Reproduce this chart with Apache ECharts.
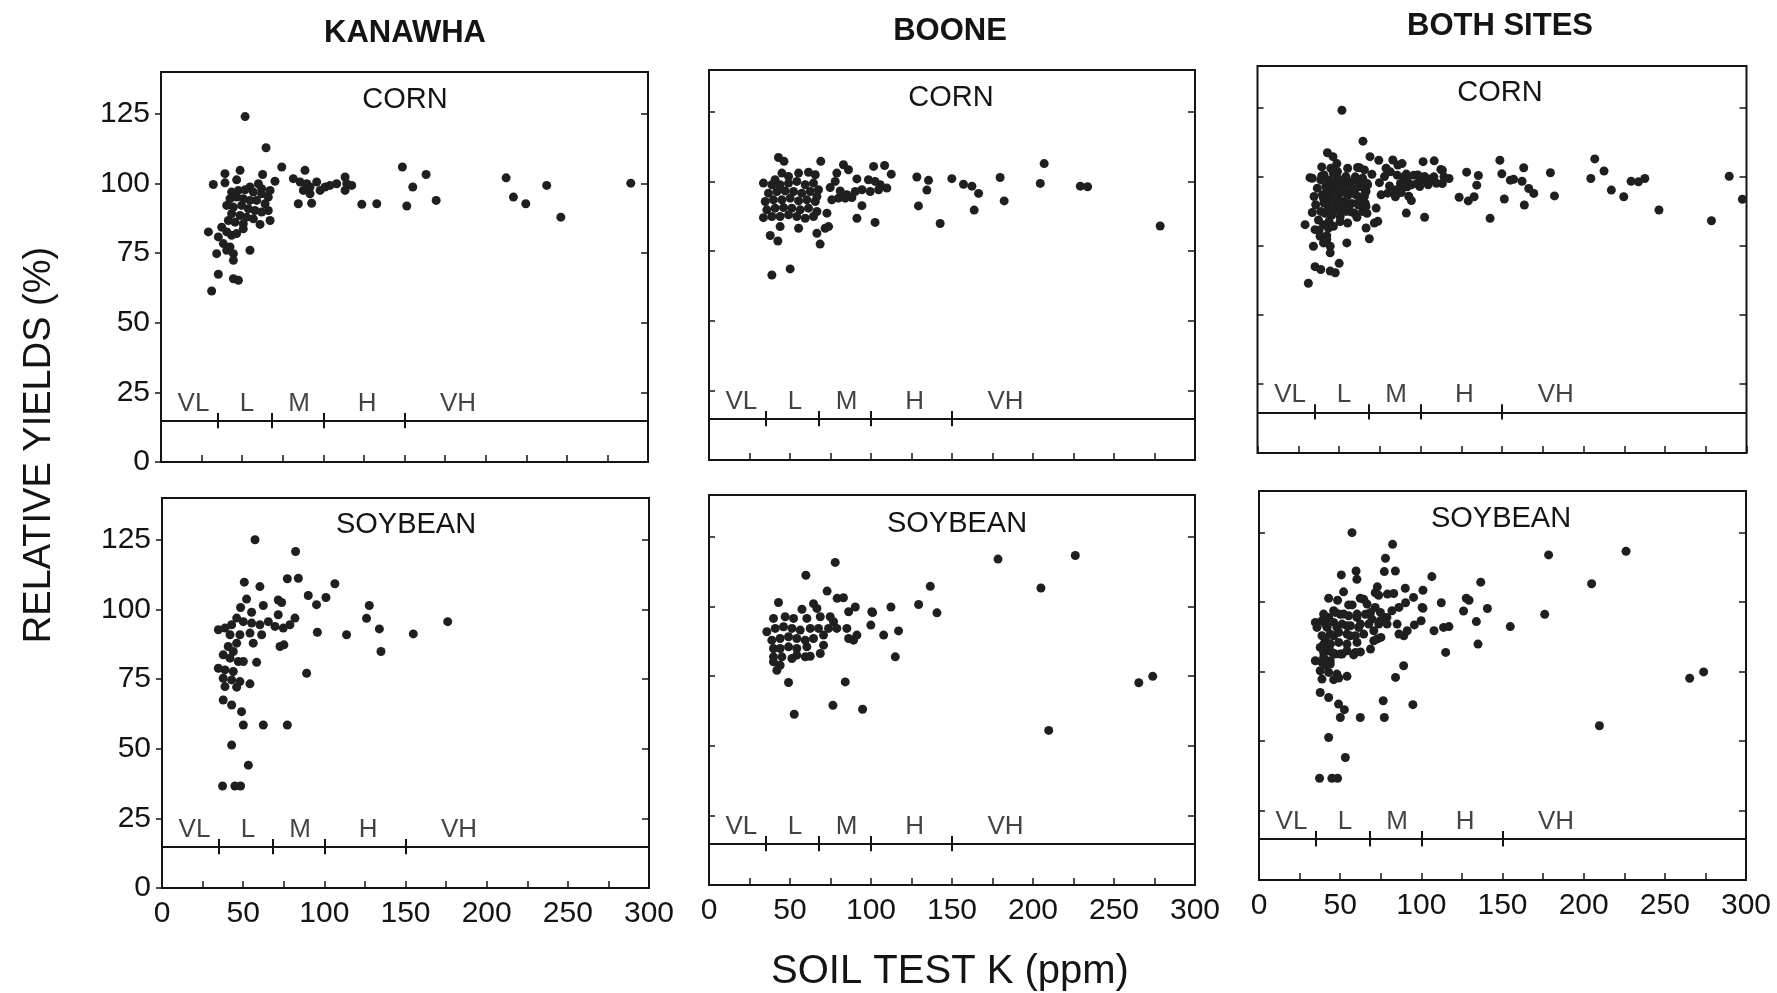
<!DOCTYPE html>
<html><head><meta charset="utf-8">
<script src="https://cdn.jsdelivr.net/npm/echarts@6/dist/echarts.min.js"></script>
<style>html,body{margin:0;padding:0;background:#fff}#c{width:1777px;height:993px}</style>
</head><body><div id="c"></div>
<script>
// ---------- DATA ----------
const columnTitles = ['KANAWHA', 'BOONE', 'BOTH SITES'];
const cropNames = ['CORN', 'SOYBEAN'];
const xTickLabels = [0, 50, 100, 150, 200, 250, 300];
const yTickLabels = [0, 25, 50, 75, 100, 125];
const kClassNames = ['VL', 'L', 'M', 'H', 'VH'];
const kClassLabelX = [20, 53, 85, 127, 183];
const kClassBounds = [35, 68, 100, 150];
const kClassLineY = 14.7;
const xAxisTitle = 'SOIL TEST K (ppm)';
const yAxisTitle = 'RELATIVE YIELDS (%)';

const kanawhaCorn = [
[51.8,124.0],[64.7,112.8],[74.4,105.9],[48.7,104.7],[39.4,103.5],[62.6,103.2],[39.4,100.2],[46.6,101.3],[32.2,99.6],[70.2,100.8],
[60.0,99.9],[54.8,98.7],[62.0,98.1],[67.2,97.5],[43.5,96.9],[47.7,97.5],[51.8,97.7],[56.9,96.9],[62.0,96.3],[66.1,95.1],
[42.5,94.5],[46.6,95.1],[50.7,94.5],[54.8,93.9],[58.9,93.9],[64.1,92.7],[40.5,92.1],[44.6,91.5],[49.7,92.1],[53.8,90.9],
[57.9,90.3],[62.0,89.7],[66.1,90.3],[43.5,89.1],[48.7,88.5],[52.8,87.9],[56.9,87.3],[41.5,86.7],[45.6,86.1],[50.7,85.5],
[61.0,85.3],[67.2,86.7],[37.4,84.3],[40.5,82.6],[35.3,80.8],[29.2,82.6],[43.5,81.4],[46.6,82.0],[50.7,83.7],[38.4,78.4],
[42.5,77.2],[34.3,74.8],[40.5,76.0],[44.6,74.8],[44.6,72.4],[54.8,76.0],[35.3,67.4],[44.6,65.8],[47.7,65.2],[31.2,61.4],
[81.5,101.7],[85.7,100.5],[88.7,104.7],[89.8,99.9],[91.8,98.7],[95.9,100.5],[98.0,97.5],[101.1,98.7],[104.1,99.3],[108.2,99.9],
[113.4,102.3],[114.4,99.9],[117.5,99.3],[113.4,97.5],[91.8,96.3],[87.7,97.5],[84.6,92.7],[92.8,92.9],[123.7,92.5],
[132.9,92.7],[148.7,105.9],[155.1,98.7],[163.3,103.2],[169.5,93.9],[151.4,91.9],[212.6,102.0],[217.1,95.1],[224.7,92.7],
[237.6,99.3],[246.3,87.9],[289.4,100.1]
];

const booneCorn = [
[42.9,108.6],[46.3,107.2],[69.0,107.2],[83.0,106.0],[86.1,104.2],[101.6,105.4],[108.4,105.7],[112.5,102.6],[128.3,101.6],[33.6,99.4],
[40.8,100.6],[45.0,103.0],[49.1,101.8],[55.3,103.0],[61.4,103.3],[65.6,102.4],[78.9,103.0],[77.9,100.0],[91.3,100.9],[98.4,100.6],
[102.5,100.0],[105.7,98.8],[109.8,97.6],[74.8,97.8],[81.0,96.6],[85.1,95.2],[90.3,96.4],[94.4,97.0],[99.5,96.4],[104.7,97.0],
[75.8,93.4],[79.9,94.0],[84.1,94.0],[88.2,94.2],[94.4,91.3],[91.3,86.8],[102.5,85.3],
[38.8,98.8],[43.9,98.8],[49.1,99.4],[54.2,100.0],[59.4,98.8],[64.5,99.4],[67.6,97.0],[36.7,95.8],[41.9,96.4],[47.0,96.6],
[52.2,96.4],[57.3,95.8],[62.5,96.4],[66.6,94.6],[34.7,92.8],[39.8,93.4],[45.0,93.4],[50.1,94.0],[55.3,93.0],[60.4,93.4],
[65.6,92.8],[35.7,89.8],[40.8,90.4],[46.0,90.6],[51.1,90.4],[56.3,89.8],[61.4,90.4],[66.6,89.2],[33.6,87.0],[38.8,87.4],
[43.9,87.4],[49.1,88.0],[54.2,87.4],[59.4,86.8],[64.5,87.4],[72.8,88.6],[43.9,83.8],[55.3,83.2],[71.7,83.2],[73.8,83.8],
[66.6,81.4],[37.8,80.6],[42.5,78.6],[68.6,77.5],[38.8,66.4],[50.1,68.6],
[135.5,100.4],[134.5,96.9],[129.3,91.2],[149.9,101.0],[157.1,99.0],[162.3,98.3],[166.4,95.7],[163.7,89.7],[142.7,84.9],[179.7,101.4],
[182.2,93.0],[206.9,106.4],[204.5,99.3],[229.2,98.3],[233.7,98.1],[278.5,84.0]
];

const bothCornExtra = [[297.5,91.8]];

const kanawhaSoy = [
[57.3,125.0],[82.3,120.8],[50.7,109.8],[60.3,108.2],[77.2,111.0],[84.0,111.2],[106.5,109.2],[90.1,105.0],[95.2,101.7],[101.0,104.3],
[52.1,103.7],[48.4,100.7],[55.2,99.0],[62.4,101.4],[71.6,103.4],[73.7,102.5],[71.6,98.1],[81.9,96.9],[78.8,94.5],[74.7,93.3],
[69.6,93.9],[65.5,95.6],[60.3,94.5],[55.2,95.1],[50.1,95.6],[46.0,96.9],[42.9,94.5],[38.8,93.3],[34.7,92.7],[41.9,90.9],
[48.0,90.9],[54.2,91.5],[61.4,90.9],[56.2,87.9],[46.0,87.9],[40.8,86.7],[43.9,84.9],[72.7,86.7],[75.1,87.3],[95.7,91.8],
[113.7,90.9],[37.7,83.7],[41.9,82.5],[47.0,81.3],[50.1,81.3],[58.3,81.0],[34.7,78.9],[38.8,78.3],[43.9,77.7],[37.7,75.3],
[42.9,74.7],[48.0,74.1],[38.8,72.3],[46.0,72.1],[54.2,73.3],[89.1,77.1],[37.7,67.5],[42.9,65.7],[49.0,63.3],[50.1,58.5],
[62.4,58.5],[77.2,58.5],[42.9,51.3],[53.2,44.1],[37.3,36.6],[44.9,36.6],[48.4,36.6],
[127.7,101.4],[126.0,96.8],[133.9,93.0],[134.9,84.9],[154.8,91.2],[176.0,95.6]
];

const booneSoy = [
[72.9,105.5],[79.1,102.9],[83.0,103.1],[42.9,101.4],[57.4,99.0],[64.5,101.0],[66.6,99.3],[86.2,98.1],[90.3,99.8],[100.5,98.1],
[99.9,93.3],[107.8,89.7],[39.8,95.7],[47.0,96.3],[52.2,95.7],[60.4,95.7],[68.7,96.3],[74.8,96.3],[76.9,94.5],[35.7,90.9],
[40.9,92.1],[46.0,92.7],[51.2,92.1],[56.3,91.5],[62.5,92.1],[67.6,92.1],[73.8,92.1],[78.9,92.1],[38.8,87.9],[43.9,88.5],
[49.1,89.1],[54.2,88.5],[59.4,87.9],[64.5,88.5],[70.7,89.7],[39.8,84.9],[43.9,84.9],[49.1,85.5],[54.2,84.9],[60.4,85.5],
[85.1,92.1],[86.2,88.5],[89.2,87.9],[91.3,89.7],[39.8,81.9],[45.0,81.9],[51.2,81.3],[54.2,82.5],[59.4,81.9],[62.5,82.1],
[70.7,86.1],[68.7,83.1],[39.8,80.1],[43.9,78.9],[41.9,77.1],[49.1,72.7],[84.1,72.9],
[59.8,111.2],[77.9,115.8],[101.0,97.8],[112.3,99.8],[117.0,91.2],[115.0,81.9],[129.4,100.7],[136.6,107.2],[140.7,97.7],
[178.4,117.0],[204.9,106.6],[226.1,118.3],[265.3,72.6],[273.9,74.9],[209.7,55.5],[52.6,61.3],[76.5,64.5],[94.8,63.1]
];

// panels in reading order (row: corn, soybean; column: Kanawha, Boone, both sites)
const panelData = [
  kanawhaCorn, booneCorn, kanawhaCorn.concat(booneCorn, bothCornExtra),
  kanawhaSoy, booneSoy, kanawhaSoy.concat(booneSoy)
];

// ---------- LAYOUT ----------
const FONT = "'Liberation Sans', Arial, sans-serif";
const INK = '#141414';
const grids = [
  [161, 72, 487, 390], [709, 70, 486, 390], [1257.5, 66, 489, 387],
  [162, 498, 487, 390], [709, 495, 486, 390], [1259, 491, 487, 389]
];
const colTitlePos = [[405, 33], [950, 31], [1500, 26]];
const cropNamePos = [[405, 100], [951, 98], [1500, 93], [406, 525], [957, 524], [1501, 519]];

const option = {
  backgroundColor: '#ffffff',
  animation: false,
  grid: grids.map(g => ({left: g[0], top: g[1], width: g[2], height: g[3], show: true,
    borderColor: INK, borderWidth: 2, backgroundColor: 'transparent'})),
  xAxis: grids.map((g, i) => ({
    gridIndex: i, type: 'value', min: 0, max: 300, interval: 25,
    axisLine: {show: false}, splitLine: {show: false},
    axisTick: {show: true, inside: true, length: 7, lineStyle: {color: INK, width: 1.5}},
    axisLabel: {show: i >= 3, margin: 11, fontSize: 30, color: INK, fontFamily: FONT,
      showMinLabel: true, showMaxLabel: true,
      formatter: v => xTickLabels.indexOf(v) >= 0 ? String(v) : ''}
  })),
  yAxis: grids.flatMap((g, i) => ([
    {gridIndex: i, type: 'value', min: 0, max: 140, interval: 25, position: 'left',
      axisLine: {show: false}, splitLine: {show: false},
      axisTick: {show: true, inside: i % 3 !== 0, length: 6, customValues: yTickLabels, lineStyle: {color: INK, width: 1.5}},
      axisLabel: {show: i % 3 === 0, margin: 11, fontSize: 30, color: INK, fontFamily: FONT,
        customValues: yTickLabels,
        formatter: v => yTickLabels.indexOf(v) >= 0 ? String(v) : ''}},
    {gridIndex: i, type: 'value', min: 0, max: 140, interval: 25, position: 'right',
      axisLine: {show: false}, splitLine: {show: false},
      axisTick: {show: true, inside: true, length: 7, customValues: yTickLabels, lineStyle: {color: INK, width: 1.5}},
      axisLabel: {show: false}}
  ])),
  series: panelData.flatMap((d, i) => ([
    {type: 'scatter', xAxisIndex: i, yAxisIndex: 2 * i, data: d, symbol: 'circle', symbolSize: 9,
      itemStyle: {color: '#1f1f1f', opacity: 1}, silent: true,
      markLine: {silent: true, symbol: ['none', 'none'], animation: false,
        label: {show: false}, lineStyle: {color: INK, width: 2, type: 'solid'},
        emphasis: {disabled: true},
        data: [{yAxis: kClassLineY}].concat(kClassBounds.map(b => [
          {coord: [b, kClassLineY - 2.6]}, {coord: [b, kClassLineY + 2.9]}]))}},
    {type: 'scatter', xAxisIndex: i, yAxisIndex: 2 * i, symbolSize: 1, silent: true,
      itemStyle: {color: 'rgba(0,0,0,0)'},
      data: kClassNames.map((n, k) => ({name: n, value: [kClassLabelX[k], kClassLineY]})),
      label: {show: true, position: 'top', distance: 4, formatter: '{b}', fontSize: 26,
        color: INK, fontFamily: FONT}}
  ])),
  graphic: [
    ...columnTitles.map((t, k) => ({type: 'text', x: colTitlePos[k][0], y: colTitlePos[k][1],
      style: {text: t, fill: INK, font: 'bold 31px ' + FONT, textAlign: 'center', textVerticalAlign: 'middle'}})),
    ...cropNamePos.map((p, i) => ({type: 'text', x: p[0], y: p[1],
      style: {text: cropNames[Math.floor(i / 3)], fill: INK, font: '29px ' + FONT, textAlign: 'center', textVerticalAlign: 'middle'}})),
    {type: 'text', x: 950, y: 972, style: {text: xAxisTitle, fill: INK, font: '40px ' + FONT, textAlign: 'center', textVerticalAlign: 'middle'}},
    {type: 'text', x: 40, y: 445, rotation: Math.PI / 2, style: {text: yAxisTitle, fill: INK, font: '38px ' + FONT, textAlign: 'center', textVerticalAlign: 'middle'}}
  ]
};

const chart = echarts.init(document.getElementById('c'), null, {renderer: 'canvas'});
chart.setOption(option);
</script>
</body></html>
